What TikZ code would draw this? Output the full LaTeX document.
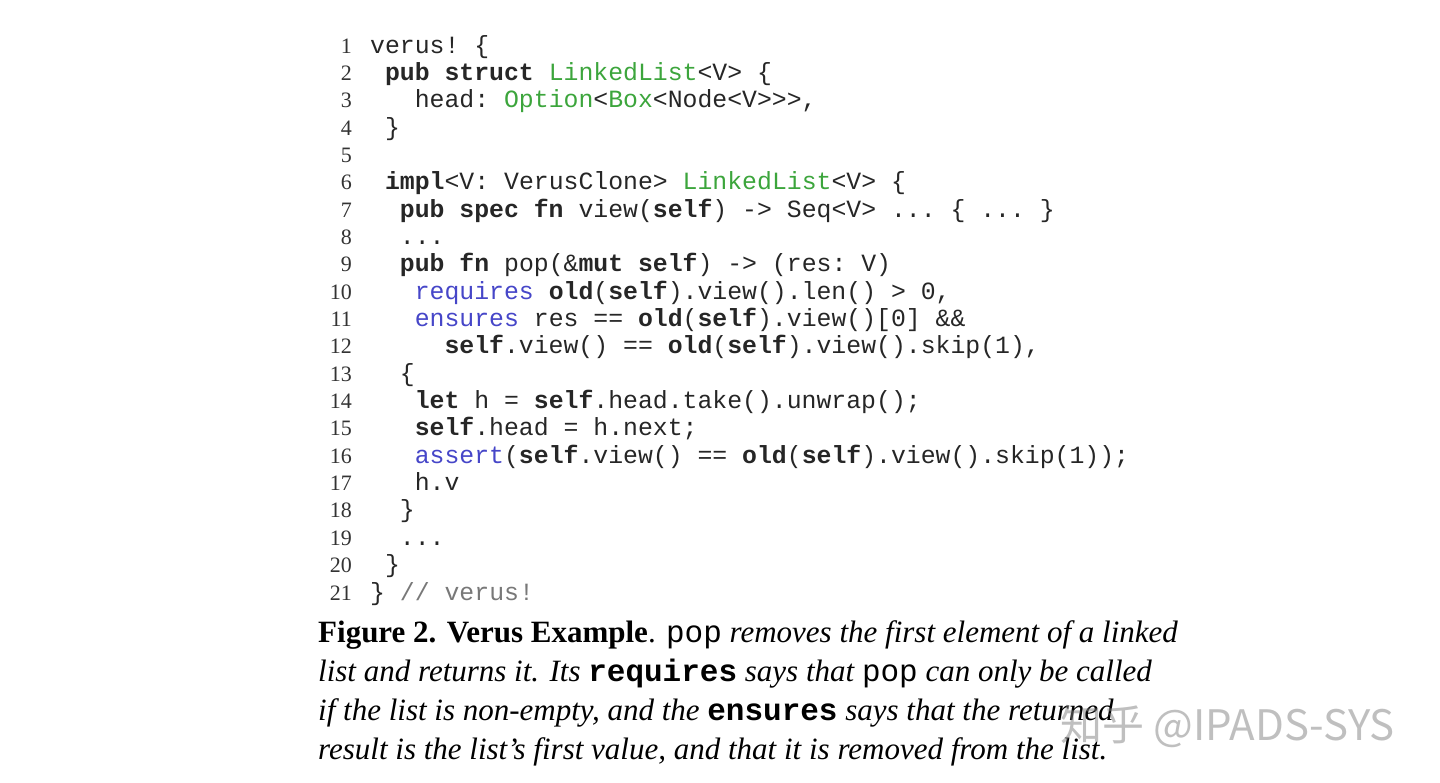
\documentclass[tikz,border=0pt]{standalone}
\usepackage{fontspec}
\setmainfont{Liberation Serif}
\setmonofont{Liberation Mono}
\newfontfamily\cjk{Noto Sans CJK SC}
\definecolor{tygreen}{RGB}{60,165,60}
\definecolor{kwblue}{RGB}{70,70,200}
\definecolor{cmgray}{RGB}{120,120,120}
\newcommand{\kw}[1]{\textbf{#1}}
\newcommand{\ty}[1]{\textcolor{tygreen}{#1}}
\newcommand{\bl}[1]{\textcolor{kwblue}{#1}}
\begin{document}
\begin{tikzpicture}[x=1pt,y=-1pt,
  code/.style={anchor=base west,inner sep=0,font=\fontsize{24.8}{26}\ttfamily,text=black!85},
  num/.style={anchor=base east,inner sep=0,font=\fontsize{22}{24}\selectfont,text=black!80},
  captext/.style={anchor=base west,inner sep=0,font=\fontsize{31}{33}\selectfont\itshape}]
\useasboundingbox (0,0) rectangle (1440,782);
\def\cw{14.87}
\foreach \n/\i/\t in {
 1/0/{verus! \{},
 2/1/{\kw{pub struct} \ty{LinkedList}<V> \{},
 3/3/{head: \ty{Option}<\ty{Box}<Node<V>>>,},
 4/1/{\}},
 5/0/{},
 6/1/{\kw{impl}<V: VerusClone> \ty{LinkedList}<V> \{},
 7/2/{\kw{pub spec fn} view(\kw{self}) -> Seq<V> ... \{ ... \}},
 8/2/{...},
 9/2/{\kw{pub fn} pop(\&\kw{mut self}) -> (res: V)},
 10/3/{\bl{requires} \kw{old}(\kw{self}).view().len() > 0,},
 11/3/{\bl{ensures} res == \kw{old}(\kw{self}).view()[0] \&\&},
 12/5/{\kw{self}.view() == \kw{old}(\kw{self}).view().skip(1),},
 13/2/{\{},
 14/3/{\kw{let} h = \kw{self}.head.take().unwrap();},
 15/3/{\kw{self}.head = h.next;},
 16/3/{\bl{assert}(\kw{self}.view() == \kw{old}(\kw{self}).view().skip(1));},
 17/3/{h.v},
 18/2/{\}},
 19/2/{...},
 20/1/{\}},
 21/0/{\} \textcolor{cmgray}{// verus!}}}
{
 \node[num] (n\n) at (352,{53+27.35*(\n-1)}) {\n};
 \node[code] (c\n) at ({370+\cw*\i},{53+27.35*(\n-1)}) {\t};
}
\node[captext] (l1) at (318,642) {\upshape\textbf{Figure 2. Verus Example}. \itshape\texttt{\upshape pop} removes the first element of a linked};
\node[captext] (l2) at (318,681) {list and returns it. Its \texttt{\upshape\bfseries requires} says that \texttt{\upshape pop} can only be called};
\node[captext] (l3) at (318,720) {if the list is non-empty, and the \texttt{\upshape\bfseries ensures} says that the returned};
\node[captext] (l4) at (318,759) {result is the list's first value, and that it is removed from the list.};
\node[anchor=base west,inner sep=0,font=\fontsize{42}{44}\cjk,text=gray,opacity=0.5] (wm) at (1060,740) {知乎 @IPADS-SYS};
\end{tikzpicture}
\end{document}
